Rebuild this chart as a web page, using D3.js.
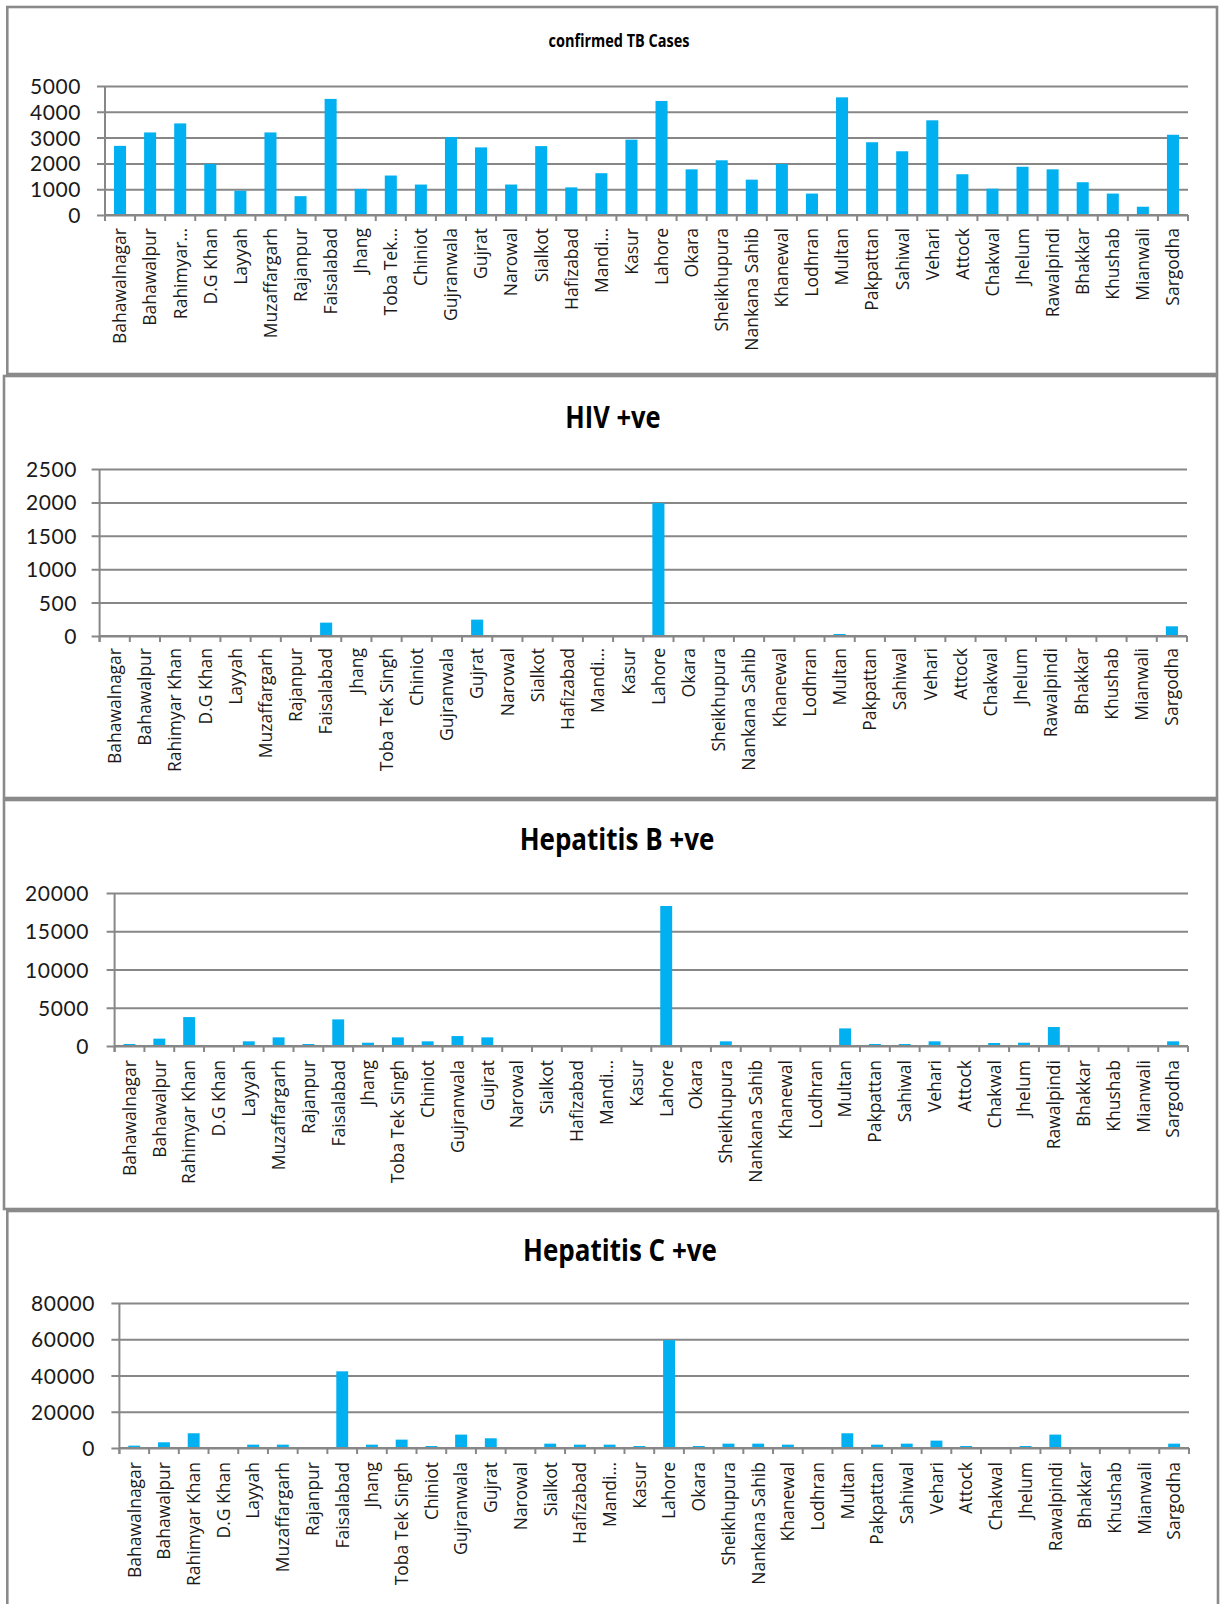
<!DOCTYPE html>
<html>
<head>
<meta charset="utf-8">
<script src="https://cdn.jsdelivr.net/npm/d3@7"></script>
<style>
  html, body { margin: 0; padding: 0; background: #fff; }
  svg { display: block; }
</style>
</head>
<body>
<script>
// ---------------- DATA ----------------
const categories = ["Bahawalnagar","Bahawalpur","Rahimyar Khan","D.G Khan","Layyah","Muzaffargarh","Rajanpur","Faisalabad","Jhang","Toba Tek Singh","Chiniot","Gujranwala","Gujrat","Narowal","Sialkot","Hafizabad","Mandi Bahauddin","Kasur","Lahore","Okara","Sheikhupura","Nankana Sahib","Khanewal","Lodhran","Multan","Pakpattan","Sahiwal","Vehari","Attock","Chakwal","Jhelum","Rawalpindi","Bhakkar","Khushab","Mianwali","Sargodha"];

const labelsTB = ["Bahawalnagar","Bahawalpur","Rahimyar…","D.G Khan","Layyah","Muzaffargarh","Rajanpur","Faisalabad","Jhang","Toba Tek…","Chiniot","Gujranwala","Gujrat","Narowal","Sialkot","Hafizabad","Mandi…","Kasur","Lahore","Okara","Sheikhupura","Nankana Sahib","Khanewal","Lodhran","Multan","Pakpattan","Sahiwal","Vehari","Attock","Chakwal","Jhelum","Rawalpindi","Bhakkar","Khushab","Mianwali","Sargodha"];

const labelsOther = ["Bahawalnagar","Bahawalpur","Rahimyar Khan","D.G Khan","Layyah","Muzaffargarh","Rajanpur","Faisalabad","Jhang","Toba Tek Singh","Chiniot","Gujranwala","Gujrat","Narowal","Sialkot","Hafizabad","Mandi…","Kasur","Lahore","Okara","Sheikhupura","Nankana Sahib","Khanewal","Lodhran","Multan","Pakpattan","Sahiwal","Vehari","Attock","Chakwal","Jhelum","Rawalpindi","Bhakkar","Khushab","Mianwali","Sargodha"];

const tbValues   = [2680,3200,3550,1980,940,3200,730,4500,1010,1530,1180,3020,2620,1180,2670,1070,1620,2920,4420,1770,2120,1370,1980,830,4560,2820,2470,3670,1580,1020,1870,1770,1270,830,320,3110];
const hivValues  = [0,0,0,0,0,0,0,200,0,0,0,0,245,0,0,0,0,0,1990,0,0,0,0,0,30,0,0,0,0,0,0,0,0,0,0,145];
const hepBValues = [260,960,3780,0,610,1130,260,3480,430,1130,610,1300,1130,0,0,0,0,0,18300,0,610,0,0,0,2300,260,260,610,0,390,430,2480,0,0,0,610];
const hepCValues = [1300,3140,8130,0,1850,1850,0,42300,1850,4620,1110,7390,5360,0,2400,1850,1850,1110,59500,1110,2400,2400,1850,0,8130,1850,2400,4070,1110,0,1110,7390,0,0,0,2400];

const tbTicks   = [0,1000,2000,3000,4000,5000];
const hivTicks  = [0,500,1000,1500,2000,2500];
const hepBTicks = [0,5000,10000,15000,20000];
const hepCTicks = [0,20000,40000,60000,80000];

const titles = ["confirmed TB Cases","HIV +ve","Hepatitis B +ve","Hepatitis C +ve"];

// ---------------- LAYOUT ----------------
const W = 1220, H = 1604;
const BAR = "#00B0F0", GRID = "#878787", BORDER = "#8a8a8a";
const FONT = "'Open Sans', 'DejaVu Sans', sans-serif";
const YFONT = "Lato, 'Open Sans', sans-serif";

const panels = [
  { title: titles[0], titleSize: 14.5, titleX: 619, titleY: 47, values: tbValues, ticks: tbTicks, labels: labelsTB,
    rect: [7.3, 7, 1217, 374], plot: [105, 86, 1188, 215], yLabelRight: 81, labelY: 228 },
  { title: titles[1], titleSize: 25.5, titleX: 613, titleY: 428, values: hivValues, ticks: hivTicks, labels: labelsOther,
    rect: [4, 376, 1217, 798], plot: [99.6, 469, 1187, 636], yLabelRight: 77, labelY: 648 },
  { title: titles[2], titleSize: 26, titleX: 617, titleY: 850, values: hepBValues, ticks: hepBTicks, labels: labelsOther,
    rect: [4, 800, 1217, 1209], plot: [114.6, 893, 1188, 1046], yLabelRight: 89, labelY: 1060 },
  { title: titles[3], titleSize: 26, titleX: 620, titleY: 1261, values: hepCValues, ticks: hepCTicks, labels: labelsOther,
    rect: [7.3, 1211, 1218, 1650], plot: [119.4, 1303, 1189, 1448], yLabelRight: 95, labelY: 1462 }
];

const svg = d3.select("body").append("svg")
  .attr("width", W).attr("height", H)
  .attr("viewBox", `0 0 ${W} ${H}`);

svg.append("rect").attr("width", W).attr("height", H).attr("fill", "#fff");

panels.forEach(p => {
  const g = svg.append("g");
  const [rx0, ry0, rx1, ry1] = p.rect;
  const [px0, py0, px1, py1] = p.plot;

  // panel border
  g.append("rect")
    .attr("x", rx0).attr("y", ry0)
    .attr("width", rx1 - rx0).attr("height", ry1 - ry0)
    .attr("fill", "#fff").attr("stroke", BORDER).attr("stroke-width", 2.6);

  const x = d3.scaleBand()
    .domain(categories)
    .range([px0, px1])
    .paddingInner(0.6)
    .paddingOuter(0.3);

  const y = d3.scaleLinear()
    .domain([0, d3.max(p.ticks)])
    .range([py1, py0]);

  // gridlines (extend slightly left as major ticks)
  const grid = g.append("g").attr("transform", `translate(${px0 - 8},0)`)
    .call(d3.axisRight(y).tickValues(p.ticks).tickSize(px1 - px0 + 8).tickFormat(""));
  grid.select(".domain").remove();
  grid.selectAll(".tick line").attr("stroke", GRID).attr("stroke-width", 2);

  // y labels
  const yl = g.append("g").attr("transform", `translate(${p.yLabelRight},0)`)
    .call(d3.axisLeft(y).tickValues(p.ticks).tickSize(0).tickPadding(0).tickFormat(d3.format("d")));
  yl.select(".domain").remove();
  yl.selectAll(".tick text")
    .attr("font-family", YFONT).attr("font-size", 21).attr("fill", "#1a1a1a")
    .attr("letter-spacing", "0.6px")
    .attr("dy", "0.36em").attr("x", 0);

  // vertical axis line
  g.append("line")
    .attr("x1", px0).attr("x2", px0).attr("y1", py0).attr("y2", py1 + 6)
    .attr("stroke", GRID).attr("stroke-width", 2);

  // category boundary ticks
  const step = x.step();
  const bounds = d3.range(categories.length + 1).map(i => x.range()[0] + i * step);
  g.append("g").selectAll("line").data(bounds).join("line")
    .attr("x1", d => d).attr("x2", d => d)
    .attr("y1", py1).attr("y2", py1 + 6)
    .attr("stroke", GRID).attr("stroke-width", 2);

  // bars
  g.append("g").selectAll("rect").data(p.values).join("rect")
    .attr("x", (d, i) => x(categories[i]))
    .attr("width", x.bandwidth())
    .attr("y", d => y(d))
    .attr("height", d => y(0) - y(d))
    .attr("fill", BAR);

  // x axis baseline
  g.append("line")
    .attr("x1", px0).attr("x2", px1).attr("y1", py1).attr("y2", py1)
    .attr("stroke", GRID).attr("stroke-width", 2);

  // x labels (rotated)
  const xa = g.append("g").attr("transform", `translate(0,${p.labelY})`)
    .call(d3.axisBottom(x).tickSize(0).tickPadding(0).tickFormat((d, i) => p.labels[i]));
  xa.select(".domain").remove();
  xa.selectAll(".tick text")
    .attr("font-family", FONT).attr("font-size", 17.5).attr("fill", "#1a1a1a")
    .attr("text-anchor", "end")
    .attr("transform", "rotate(-90)")
    .attr("x", 0).attr("y", 0).attr("dy", "0.36em");

  // title
  g.append("text")
    .attr("transform", `translate(${p.titleX},${p.titleY}) scale(1,1.2)`)
    .attr("text-anchor", "middle")
    .attr("font-family", FONT).attr("font-weight", 700)
    .attr("font-size", p.titleSize).attr("fill", "#000")
    .text(p.title);
});
</script>
</body>
</html>
